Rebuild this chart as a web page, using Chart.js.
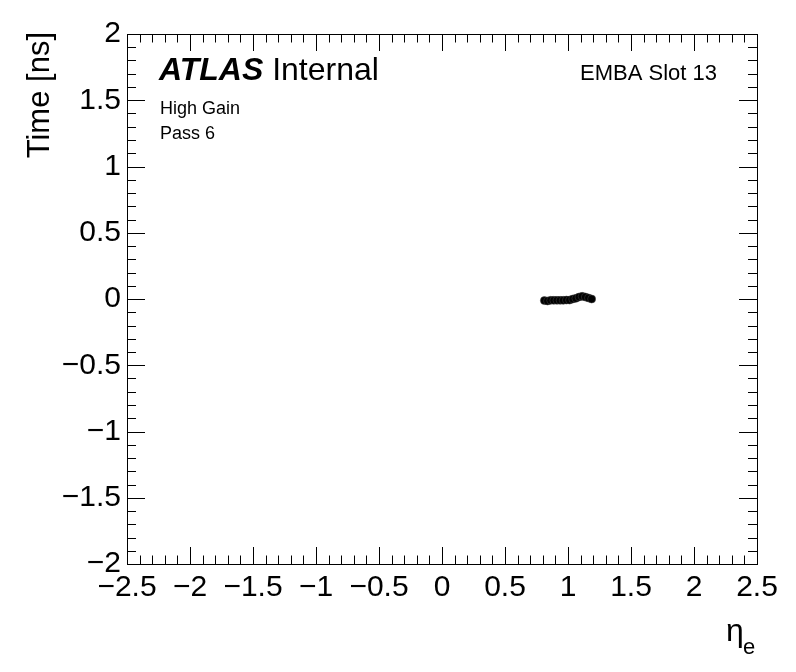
<!DOCTYPE html>
<html>
<head>
<meta charset="utf-8">
<script src="https://cdn.jsdelivr.net/npm/chart.js@4.4.0/dist/chart.umd.min.js"></script>
<style>
  html, body { margin: 0; padding: 0; background: #fff; }
  #wrap { width: 796px; height: 672px; }
</style>
</head>
<body>
<div id="wrap"><canvas id="myChart" width="796" height="672"></canvas></div>
<script>
// channel eta and time offset (ns)
const etaValues = [0.8125, 0.8375, 0.8625, 0.8875, 0.9125, 0.9375, 0.9625, 0.9875,
                   1.0125, 1.0375, 1.0625, 1.0875, 1.1125, 1.1375, 1.1625, 1.1875];
const timeValues = [-0.012, -0.015, -0.010, -0.010, -0.010, -0.010, -0.010, -0.008,
                    -0.008, 0.000, 0.005, 0.015, 0.020, 0.015, 0.008, 0.000];

const xTicks = [-2.5, -2, -1.5, -1, -0.5, 0, 0.5, 1, 1.5, 2, 2.5];
const yTicks = [-2, -1.5, -1, -0.5, 0, 0.5, 1, 1.5, 2];
const minorStep = 0.1;

const FONT = "'Liberation Sans', Arial, Helvetica, sans-serif";

function fmt(v) {
  const r = Math.round(v * 10) / 10;
  return String(r).replace("-", "\u2212");
}

// ROOT style frame with inner ticks on all four sides
const rootFrame = {
  id: "rootFrame",
  afterDatasetsDraw(chart) {
    const ctx = chart.ctx;
    const a = chart.chartArea;
    const xs = chart.scales.x;
    const ys = chart.scales.y;
    ctx.save();
    ctx.strokeStyle = "#000";
    ctx.lineWidth = 1;
    ctx.strokeRect(a.left + 0.5, a.top + 0.5, a.right - a.left, a.bottom - a.top);

    ctx.beginPath();
    for (let i = 0; i <= 50; i++) {
      const v = xs.min + i * minorStep;
      const px = Math.round(xs.getPixelForValue(v)) + 0.5;
      const len = i % 5 === 0 ? 17 : 8.5;
      ctx.moveTo(px, a.bottom);
      ctx.lineTo(px, a.bottom - len);
      ctx.moveTo(px, a.top);
      ctx.lineTo(px, a.top + len);
    }
    for (let i = 0; i <= 40; i++) {
      const v = ys.min + i * minorStep;
      const py = Math.round(ys.getPixelForValue(v)) + 0.5;
      const len = i % 5 === 0 ? 18 : 9;
      ctx.moveTo(a.left, py);
      ctx.lineTo(a.left + len, py);
      ctx.moveTo(a.right, py);
      ctx.lineTo(a.right - len, py);
    }
    ctx.stroke();

    ctx.fillStyle = "#000";
    ctx.textBaseline = "alphabetic";
    // ATLAS Internal
    ctx.textAlign = "left";
    ctx.font = "italic bold 32px " + FONT;
    ctx.fillText("ATLAS", 159, 80);
    const w = ctx.measureText("ATLAS ").width;
    ctx.font = "32px " + FONT;
    ctx.fillText("Internal", 159 + w, 80);

    ctx.font = "18px " + FONT;
    ctx.fillText("High Gain", 160, 114);
    ctx.fillText("Pass 6", 160, 139);

    ctx.textAlign = "right";
    ctx.font = "22px " + FONT;
    ctx.fillText("EMBA Slot 13", 717, 80);

    // y axis title
    ctx.save();
    ctx.translate(49, 32);
    ctx.rotate(-Math.PI / 2);
    ctx.textAlign = "right";
    ctx.font = "31px " + FONT;
    ctx.fillText("Time [ns]", 0, 0);
    ctx.restore();

    // x axis title: eta_e
    ctx.textAlign = "left";
    ctx.font = "32px " + FONT;
    ctx.fillText("\u03b7", 726, 641);
    ctx.font = "22px " + FONT;
    ctx.fillText("e", 743, 654);
    ctx.restore();
  }
};

const ctx = document.getElementById("myChart");

new Chart(ctx, {
  type: "scatter",
  data: {
    datasets: [
      {
        label: "Time",
        data: etaValues.map((e, i) => ({ x: e, y: timeValues[i] })),
        backgroundColor: "#000",
        borderColor: "#444",
        pointRadius: 4,
        pointHoverRadius: 4,
        borderWidth: 0.5,
      },
    ],
  },
  options: {
    responsive: false,
    animation: false,
    events: [],
    layout: { padding: { top: 34, right: 39, left: 0, bottom: 0 } },
    plugins: {
      legend: { display: false },
      tooltip: { enabled: false },
    },
    scales: {
      x: {
        type: "linear",
        min: -2.5,
        max: 2.5,
        afterBuildTicks: (scale) => {
          scale.ticks = xTicks.map((v) => ({ value: v }));
        },
        afterFit: (scale) => {
          scale.height = 108;
        },
        grid: { display: false, drawTicks: false },
        border: { display: false },
        ticks: {
          autoSkip: false,
          maxRotation: 0,
          padding: 6,
          color: "#000",
          font: { family: FONT, size: 30 },
          callback: (v) => fmt(v),
        },
      },
      y: {
        type: "linear",
        min: -2,
        max: 2,
        afterBuildTicks: (scale) => {
          scale.ticks = yTicks.map((v) => ({ value: v }));
        },
        afterFit: (scale) => {
          scale.width = 127;
        },
        grid: { display: false, drawTicks: false },
        border: { display: false },
        ticks: {
          autoSkip: false,
          padding: 6,
          color: "#000",
          font: { family: FONT, size: 30 },
          callback: (v) => fmt(v),
        },
      },
    },
  },
  plugins: [rootFrame],
});
</script>
</body>
</html>
